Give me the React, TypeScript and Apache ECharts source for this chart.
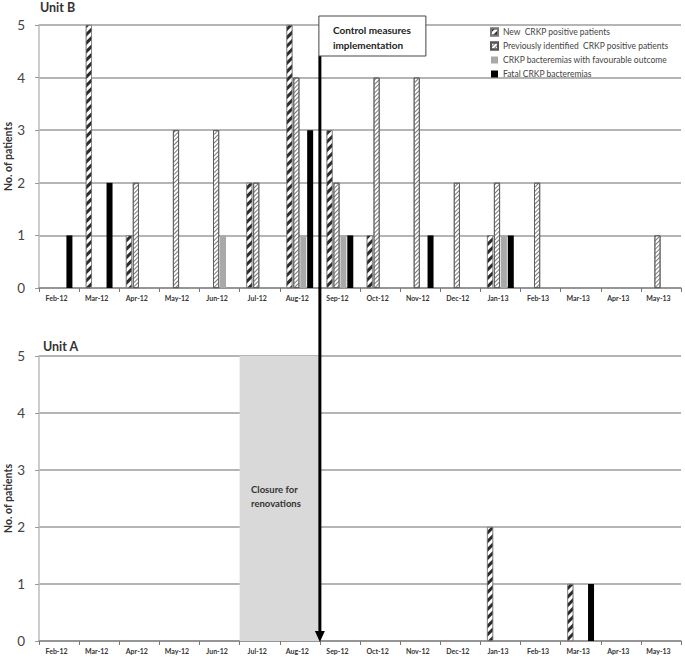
import React, { useEffect, useRef } from 'react';
import * as echarts from 'echarts';

const months = ['Feb-12', 'Mar-12', 'Apr-12', 'May-12', 'Jun-12', 'Jul-12', 'Aug-12', 'Sep-12', 'Oct-12', 'Nov-12', 'Dec-12', 'Jan-13', 'Feb-13', 'Mar-13', 'Apr-13', 'May-13'];
const yTickValues = [0, 1, 2, 3, 4, 5];
const yAxisTitle = 'No. of patients';

const seriesNames = [
  'New  CRKP positive patients',
  'Previously identified  CRKP positive patients',
  'CRKP bacteremias with favourable outcome',
  'Fatal CRKP bacteremias',
];

// Unit B
const unitBNew = [0, 5, 1, 0, 0, 2, 5, 3, 1, 0, 0, 1, 0, 0, 0, 0];
const unitBPrevious = [0, 0, 2, 3, 3, 2, 4, 2, 4, 4, 2, 2, 2, 0, 0, 1];
const unitBFavourable = [0, 0, 0, 0, 1, 0, 1, 1, 0, 0, 0, 1, 0, 0, 0, 0];
const unitBFatal = [1, 2, 0, 0, 0, 0, 3, 1, 0, 1, 0, 1, 0, 0, 0, 0];

// Unit A
const unitANew = [0, 0, 0, 0, 0, 0, 0, 0, 0, 0, 0, 2, 0, 1, 0, 0];
const unitAPrevious = [0, 0, 0, 0, 0, 0, 0, 0, 0, 0, 0, 0, 0, 0, 0, 0];
const unitAFavourable = [0, 0, 0, 0, 0, 0, 0, 0, 0, 0, 0, 0, 0, 0, 0, 0];
const unitAFatal = [0, 0, 0, 0, 0, 0, 0, 0, 0, 0, 0, 0, 0, 1, 0, 0];

// Unit A closure period (Jul-12 .. Aug-12), full height
const closureStart = 'Jul-12';
const closureEnd = 'Aug-12';
const controlMonth = 'Sep-12';

const FONT = 'Lato, "Open Sans", "Noto Sans", sans-serif';

const W = 685;
const H = 658;
const gridLeft = 39;
const gridRight = 4;
const topGrid = { top: 25, bottom: 370 };
const botGrid = { top: 356, bottom: 17 };

const styles = [
  {
    color: '#fff',
    borderColor: '#777',
    borderWidth: 0.6,
    decal: {
      symbol: 'rect',
      symbolSize: 1,
      dashArrayX: [1, 0],
      dashArrayY: [2.4, 2.4],
      rotation: -Math.PI / 4,
      color: '#2b2b2b',
    },
  },
  {
    color: '#fff',
    borderColor: '#555',
    borderWidth: 0.8,
    decal: {
      symbol: 'rect',
      symbolSize: 1,
      dashArrayX: [1, 0],
      dashArrayY: [1, 1.6],
      rotation: -Math.PI / 4,
      color: '#7a7a7a',
    },
  },
  { color: '#a9a9a9' },
  { color: '#000' },
];

const nz = (arr: number[]) => arr.map((v) => (v === 0 ? null : v));

export default function App() {
  const ref = useRef<HTMLDivElement>(null);

  useEffect(() => {
    if (!ref.current) return;
    const chart = echarts.init(ref.current, undefined, { renderer: 'svg' });

    const plotW = W - gridLeft - gridRight;
    const band = plotW / months.length;
    const boundaryX = gridLeft + months.indexOf(controlMonth) * band;

    const xAxisCommon = {
      type: 'category' as const,
      data: months,
      axisLine: { lineStyle: { color: '#8c8c8c', width: 1.5 } },
      axisTick: { show: true, length: 4, lineStyle: { color: '#777' } },
      axisLabel: {
        interval: 0,
        fontSize: 7,
        fontFamily: FONT,
        fontWeight: 'bold' as const,
        color: '#333',
        margin: 6,
        padding: [0, 5, 0, 0],
      },
      splitLine: { show: false },
    };

    const yAxisCommon = {
      type: 'value' as const,
      min: yTickValues[0],
      max: yTickValues[yTickValues.length - 1],
      interval: 1,
      axisLine: { show: true, lineStyle: { color: '#bdbdbd', width: 1.5 } },
      axisTick: { show: true, length: 4, lineStyle: { color: '#999' } },
      axisLabel: { fontSize: 13.5, color: '#444', fontFamily: FONT, margin: 14 },
      splitLine: { show: true, lineStyle: { color: '#9c9c9c', width: 1.5 } },
    };

    const unitB = [unitBNew, unitBPrevious, unitBFavourable, unitBFatal];
    const unitA = [unitANew, unitAPrevious, unitAFavourable, unitAFatal];

    const barSeries = (data: number[][], axisIndex: number) =>
      data.map((d, i) => ({
        type: 'bar' as const,
        name: seriesNames[i],
        xAxisIndex: axisIndex,
        yAxisIndex: axisIndex,
        data: nz(d),
        barWidth: 6,
        barGap: '15%',
        itemStyle: styles[i],
        z: 3,
      }));

    const yMax = yTickValues[yTickValues.length - 1];
    const topMid = (topGrid.top + (H - topGrid.bottom)) / 2;
    const botMid = (botGrid.top + (H - botGrid.bottom)) / 2;
    const nameText = (cy: number) => ({
      type: 'text',
      z: 50,
      x: 8,
      y: cy,
      rotation: Math.PI / 2,
      style: {
        text: yAxisTitle,
        font: `bold 10.5px ${FONT}`,
        fill: '#333',
        align: 'center',
        verticalAlign: 'middle',
      },
    });

    chart.setOption({
      animation: false,
      backgroundColor: '#fff',
      textStyle: { fontFamily: FONT },
      title: [
        { text: 'Unit B', left: 40, top: 1, padding: 0, textStyle: { fontSize: 12.5, fontWeight: 'bold', color: '#333', fontFamily: FONT } },
        { text: 'Unit A', left: 43, top: 340, padding: 0, textStyle: { fontSize: 12.5, fontWeight: 'bold', color: '#333', fontFamily: FONT } },
      ],
      legend: {
        data: seriesNames,
        orient: 'vertical',
        left: 490,
        top: 27,
        padding: 0,
        itemWidth: 7,
        itemHeight: 7,
        itemGap: 4,
        icon: 'rect',
        selectedMode: false,
        textStyle: { fontSize: 8.5, color: '#444', fontFamily: FONT, lineHeight: 10 },
      },
      grid: [
        { left: gridLeft, right: gridRight, top: topGrid.top, bottom: topGrid.bottom, containLabel: false, outerBoundsMode: 'none' },
        { left: gridLeft, right: gridRight, top: botGrid.top, bottom: botGrid.bottom, containLabel: false, outerBoundsMode: 'none' },
      ],
      xAxis: [
        { ...xAxisCommon, gridIndex: 0 },
        { ...xAxisCommon, gridIndex: 1 },
        { type: 'value', gridIndex: 1, min: 0, max: months.length, show: false, splitLine: { show: false } },
      ],
      yAxis: [
        { ...yAxisCommon, gridIndex: 0 },
        { ...yAxisCommon, gridIndex: 1 },
      ],
      series: [
        {
          type: 'line',
          name: 'Closure for renovations',
          xAxisIndex: 2,
          yAxisIndex: 1,
          data: [],
          silent: true,
          z: 1,
          markArea: {
            silent: true,
            itemStyle: { color: '#d9d9d9', opacity: 1 },
            label: { show: false },
            data: [
              [
                { xAxis: months.indexOf(closureStart), yAxis: 0 },
                { xAxis: months.indexOf(closureEnd) + 1, yAxis: yMax },
              ],
            ],
          },
        },
        ...barSeries(unitB, 0),
        ...barSeries(unitA, 1),
      ],
      graphic: [
        nameText(topMid),
        nameText(botMid),
        {
          type: 'text',
          x: 251,
          y: 482,
          z: 50,
          style: {
            text: 'Closure for\nrenovations',
            font: `bold 9.5px ${FONT}`,
            fill: '#333',
            lineHeight: 14,
          },
        },
        {
          type: 'line',
          z: 60,
          shape: { x1: boundaryX, y1: 56, x2: boundaryX, y2: 633 },
          style: { stroke: '#000', lineWidth: 3 },
        },
        {
          type: 'polygon',
          z: 60,
          shape: { points: [[boundaryX - 5, 631], [boundaryX + 5, 631], [boundaryX, 642]] },
          style: { fill: '#000' },
        },
        {
          type: 'rect',
          z: 70,
          shape: { x: boundaryX - 1, y: 16, width: 107, height: 40 },
          style: { fill: '#fff', stroke: '#444', lineWidth: 1 },
        },
        {
          type: 'text',
          z: 71,
          x: boundaryX + 13,
          y: 22,
          style: {
            text: 'Control measures\nimplementation',
            font: `bold 10px ${FONT}`,
            fill: '#222',
            lineHeight: 15,
          },
        },
      ],
    });

    return () => chart.dispose();
  }, []);

  return <div ref={ref} style={{ position: 'absolute', left: 0, top: 0, width: W, height: H }} />;
}
